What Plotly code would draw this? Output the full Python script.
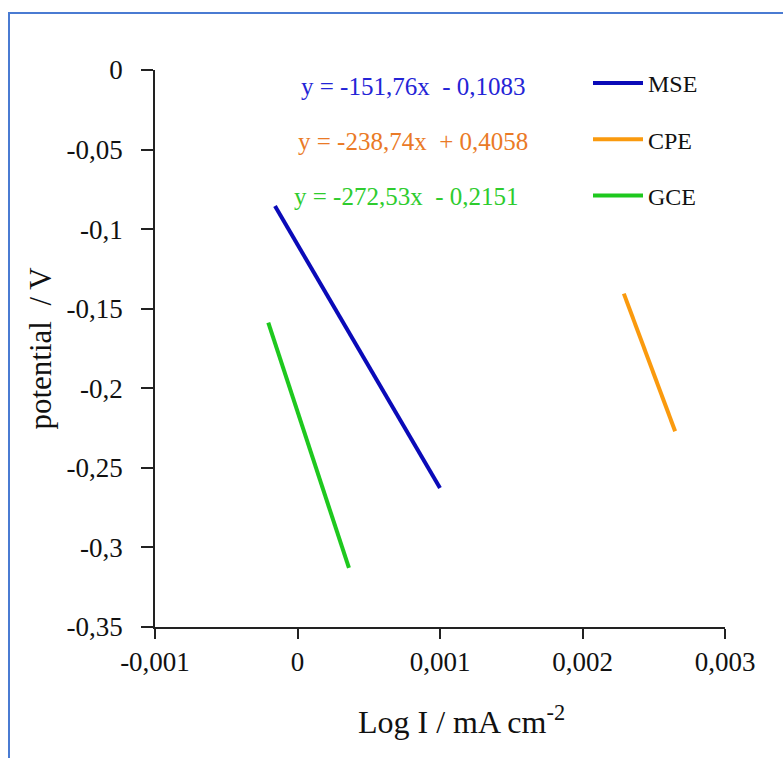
import plotly.graph_objects as go

# ---- data ----
series_names = ["MSE", "CPE", "GCE"]
mse_x = [-0.000158, 0.001]
mse_y = [-0.0855, -0.2627]
cpe_x = [0.00229, 0.00265]
cpe_y = [-0.1405, -0.2270]
gce_x = [-0.000205, 0.000361]
gce_y = [-0.1588, -0.3129]
equations = ["y = -151,76x  - 0,1083", "y = -238,74x  + 0,4058", "y = -272,53x  - 0,2151"]

x_tick_vals = [-0.001, 0, 0.001, 0.002, 0.003]
x_tick_text = ["-0,001", "0", "0,001", "0,002", "0,003"]
y_tick_vals = [0, -0.05, -0.1, -0.15, -0.2, -0.25, -0.3, -0.35]
y_tick_text = ["0", "-0,05", "-0,1", "-0,15", "-0,2", "-0,25", "-0,3", "-0,35"]

line_colors = ["#0a0ab8", "#fa9a0e", "#1ec81e"]
eq_colors = ["#2424d6", "#ea7a26", "#2ecc2e"]

W, H = 783, 758
ml, mr, mt, mb = 155, 58, 70, 131
pw, ph = W - ml - mr, H - mt - mb

def px(x):
    return (x - ml) / pw

def py(y):
    return (H - mb - y) / ph

fig = go.Figure()
for i, (xs, ys) in enumerate([(mse_x, mse_y), (cpe_x, cpe_y), (gce_x, gce_y)]):
    fig.add_trace(go.Scatter(
        x=xs, y=ys, mode="lines", name=series_names[i],
        line=dict(color=line_colors[i], width=4),
        legendgroup=series_names[i], showlegend=True,
    ))

serif = "Liberation Serif, Times New Roman, serif"

eq_pos = [(413, 87), (413, 141), (406, 196)]
for i, eq in enumerate(equations):
    fig.add_annotation(
        x=px(eq_pos[i][0]), y=py(eq_pos[i][1]), xref="paper", yref="paper",
        text=eq.replace("  ", "&nbsp; "), showarrow=False,
        font=dict(family=serif, size=25, color=eq_colors[i]),
        xanchor="center", yanchor="middle",
    )

# x-axis title (placed as in the reference, slightly right of centre)
fig.add_annotation(
    x=px(461), y=py(720), xref="paper", yref="paper",
    text="Log I / mA cm<sup>-2</sup>", showarrow=False,
    font=dict(family=serif, size=32, color="#111111"),
    xanchor="center", yanchor="middle",
)

fig.update_layout(
    width=W, height=H,
    margin=dict(l=ml, r=mr, t=mt, b=mb),
    paper_bgcolor="white", plot_bgcolor="white",
    showlegend=True,
    legend=dict(
        x=px(588), y=py(61), xanchor="left", yanchor="top",
        font=dict(family=serif, size=24, color="#111111"),
        tracegroupgap=22, itemwidth=50, bgcolor="rgba(0,0,0,0)",
    ),
    xaxis=dict(
        range=[-0.001, 0.003], tickvals=x_tick_vals, ticktext=x_tick_text,
        showgrid=False, zeroline=False, showline=True, linecolor="#222222", linewidth=1.5,
        ticks="outside", ticklen=10, tickwidth=1.5, tickcolor="#222222",
        tickfont=dict(family=serif, size=27, color="#111111"),
    ),
    yaxis=dict(
        range=[-0.35, 0], tickvals=y_tick_vals, ticktext=y_tick_text,
        showgrid=False, zeroline=False, showline=True, linecolor="#222222", linewidth=1.5,
        ticks="outside", ticklen=12, tickwidth=1.5, tickcolor="#222222", ticklabelstandoff=13,
        tickfont=dict(family=serif, size=27, color="#111111"),
        title=dict(text="potential&nbsp; / V", font=dict(family=serif, size=31, color="#111111"), standoff=6),
    ),
    shapes=[dict(
        type="rect", xref="paper", yref="paper",
        x0=px(9), x1=px(790), y0=py(766), y1=py(13),
        line=dict(color="#4a7bd2", width=2), fillcolor="rgba(0,0,0,0)", layer="below",
    )],
)

fig.write_html("out.html")
